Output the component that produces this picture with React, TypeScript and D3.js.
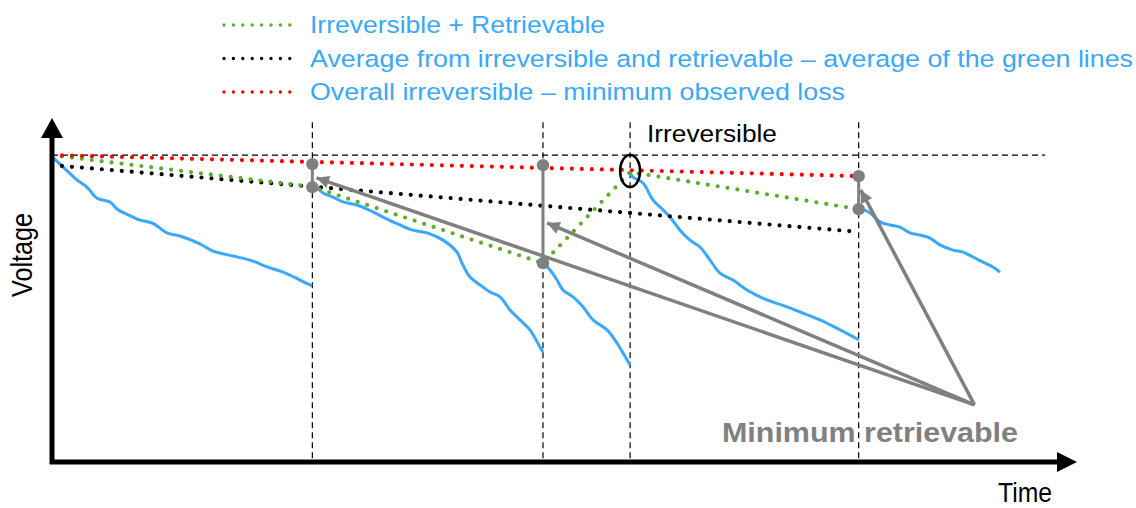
import * as d3 from "d3";

const W = 1136;
const H = 508;
const FONT = "'Liberation Sans', Arial, sans-serif";

// time / voltage in arbitrary units (0..100 on both axes)
type Pt = [number, number];

const EVENTS = [25.4, 47.9, 56.4, 78.7];
const FULL_V = 89.2;

// discharge curves between rest periods
const DISCHARGE: Pt[][] = [
  [[0, 88.7], [1.07, 85.8], [2.44, 82.0], [3.41, 79.9], [4.39, 76.7], [5.66, 75.6], [6.44, 73.3], [7.9, 71.2], [8.59, 70.3], [9.85, 69.4], [11.22, 66.6], [12.49, 65.7], [14.44, 63.4], [15.71, 61.3], [17.66, 59.9], [19.61, 58.4], [20.98, 56.7], [22.54, 55.2], [24.2, 52.9], [25.37, 51.2]],
  [[25.66, 80.5], [26.44, 78.2], [27.41, 77.0], [28.39, 75.6], [29.76, 74.7], [31.32, 72.7], [32.29, 71.2], [33.95, 68.9], [35.22, 67.4], [36.59, 66.6], [38.15, 64.5], [39.51, 61.0], [40.0, 57.8], [40.78, 53.8], [41.76, 51.5], [42.73, 49.4], [43.71, 48.0], [44.68, 44.2], [45.66, 41.3], [46.63, 38.4], [47.61, 33.4], [47.9, 32.0]],
  [[48.1, 57.3], [48.59, 55.8], [49.27, 52.9], [49.85, 50.0], [50.83, 48.0], [51.8, 45.1], [52.78, 41.3], [54.15, 38.4], [55.12, 34.6], [55.71, 31.7], [56.39, 28.2]],
  [[56.39, 84.3], [56.68, 82.8], [57.66, 81.1], [58.63, 76.2], [59.61, 73.3], [60.29, 71.2], [61.27, 67.4], [62.24, 64.5], [63.22, 62.5], [64.2, 58.7], [65.17, 54.9], [66.44, 52.9], [67.8, 50.0], [69.07, 48.0], [70.34, 46.5], [71.71, 45.1], [72.98, 43.6], [74.93, 41.3], [76.88, 38.4], [78.73, 35.5]],
  [[78.83, 73.8], [79.8, 72.4], [80.78, 69.8], [81.76, 68.9], [82.73, 68.3], [83.71, 66.6], [84.68, 66.0], [85.66, 65.1], [86.63, 63.1], [87.9, 61.6], [88.88, 61.0], [89.85, 59.6], [90.83, 58.1], [91.8, 56.7], [92.49, 55.2]],
];

const GREEN_LINE: Pt[] = [[0, 89.2], [25.4, 80.0], [47.9, 57.8], [56.4, 84.3], [78.7, 73.5]];
const BLACK_LINE: Pt[] = [[0, 86.3], [78.7, 66.9]];
const RED_LINE: Pt[] = [[0, 89.2], [78.7, 83.1]];

// retrievable gaps: [time, top, bottom]
const GAPS: [number, number, number][] = [
  [25.4, 86.6, 79.9],
  [47.9, 86.3, 57.8],
  [78.7, 83.1, 73.5],
];

const ARROW_FROM: Pt = [90.0, 16.6];
const ARROW_TO: Pt[] = [[25.8, 82.6], [48.3, 69.5], [78.9, 79.1]];
const IRREV_MARK: Pt = [56.4, 84.6];

const LEGEND = [
  { label: "Irreversible + Retrievable", color: "#5aae2a", len: 295 },
  { label: "Average from irreversible and retrievable \u2013 average of the green lines", color: "#000000", len: 823 },
  { label: "Overall irreversible \u2013 minimum observed loss", color: "#ff0000", len: 535 },
];

const BLUE = "#3aa8fb";
const GRAY = "#808080";

export default function App() {
  const x = d3.scaleLinear().domain([0, 100]).range([52, 1077]);
  const y = d3.scaleLinear().domain([0, 100]).range([462, 118]);
  const line = d3.line<Pt>().x((d) => x(d[0])).y((d) => y(d[1]));
  const wiggle = d3.line<Pt>().x((d) => x(d[0])).y((d) => y(d[1])).curve(d3.curveCatmullRom.alpha(0.5));

  const x0 = x(0), y0 = y(0), xT = x(100), yT = y(100);
  const dotted = (c: string) => ({ fill: "none", stroke: c, strokeWidth: 4.2, strokeLinecap: "round" as const, strokeDasharray: "0 10" });

  return (
    <svg width={W} height={H} style={{ position: "absolute", left: 0, top: 0, background: "#fff" }} fontFamily={FONT}>
      <defs>
        <marker id="ah" viewBox="0 0 10 10" refX={10} refY={5} markerWidth={4.2} markerHeight={3.6} orient="auto" markerUnits="strokeWidth">
          <path d="M0,0 L10,5 L0,10 Z" fill={GRAY} />
        </marker>
      </defs>

      {/* legend */}
      {LEGEND.map((l, i) => {
        const ly = 25 + i * 33.5;
        return (
          <g key={i}>
            <line x1={224} x2={290} y1={ly} y2={ly} stroke={l.color} strokeWidth={3.4} strokeLinecap="round" strokeDasharray="0 9.4" />
            <text x={310} y={ly + 8} fontSize={24.5} fill={BLUE} textLength={l.len} lengthAdjust="spacingAndGlyphs">
              {l.label}
            </text>
          </g>
        );
      })}

      {/* reference dashed lines */}
      {EVENTS.map((t) => (
        <line key={t} x1={x(t)} x2={x(t)} y1={y(98.8)} y2={y0} stroke="#000" strokeWidth={1.2} strokeDasharray="6 4" />
      ))}
      <line x1={x0} x2={x(96.9)} y1={y(FULL_V)} y2={y(FULL_V)} stroke="#000" strokeWidth={1.2} strokeDasharray="6 4" />

      {/* discharge curves */}
      {DISCHARGE.map((seg, i) => (
        <path key={i} d={wiggle(seg) ?? ""} fill="none" stroke={BLUE} strokeWidth={3} strokeLinejoin="round" />
      ))}

      {/* dotted trend lines */}
      <path d={line(BLACK_LINE) ?? ""} {...dotted("#000")} />
      <path d={line(GREEN_LINE) ?? ""} {...dotted("#5aae2a")} />
      <path d={line(RED_LINE) ?? ""} {...dotted("#ff0000")} />

      {/* retrievable gaps */}
      {GAPS.map(([t, a, b]) => (
        <g key={t}>
          <line x1={x(t)} x2={x(t)} y1={y(a)} y2={y(b)} stroke={GRAY} strokeWidth={3} />
          <circle cx={x(t)} cy={y(a)} r={6.2} fill={GRAY} />
          <circle cx={x(t)} cy={y(b)} r={6.2} fill={GRAY} />
        </g>
      ))}

      {/* irreversible mark */}
      <ellipse cx={x(IRREV_MARK[0])} cy={y(IRREV_MARK[1])} rx={10} ry={16} fill="none" stroke="#000" strokeWidth={2.5} />
      <text x={647} y={142} fontSize={23.5} fill="#000" textLength={130} lengthAdjust="spacingAndGlyphs">Irreversible</text>

      {/* arrows */}
      {ARROW_TO.map((p, i) => (
        <line key={i} x1={x(ARROW_FROM[0])} y1={y(ARROW_FROM[1])} x2={x(p[0])} y2={y(p[1])} stroke={GRAY} strokeWidth={3.5} markerEnd="url(#ah)" />
      ))}
      <text x={722} y={442} fontSize={27} fontWeight={700} fill={GRAY} textLength={296} lengthAdjust="spacingAndGlyphs">Minimum retrievable</text>

      {/* axes */}
      <line x1={x0} x2={x0} y1={y0 + 2} y2={yT + 18} stroke="#000" strokeWidth={5} />
      <path d={`M${x0},${yT} L${x0 - 11},${yT + 20} L${x0 + 11},${yT + 20} Z`} fill="#000" />
      <line x1={x0 - 2} x2={xT - 18} y1={y0} y2={y0} stroke="#000" strokeWidth={5} />
      <path d={`M${xT},${y0} L${xT - 20},${y0 - 10} L${xT - 20},${y0 + 10} Z`} fill="#000" />

      <text transform="translate(32,255) rotate(-90)" textAnchor="middle" fontSize={29} fill="#000" textLength={84} lengthAdjust="spacingAndGlyphs">Voltage</text>
      <text x={998} y={502} fontSize={27} fill="#000" textLength={54} lengthAdjust="spacingAndGlyphs">Time</text>
    </svg>
  );
}
